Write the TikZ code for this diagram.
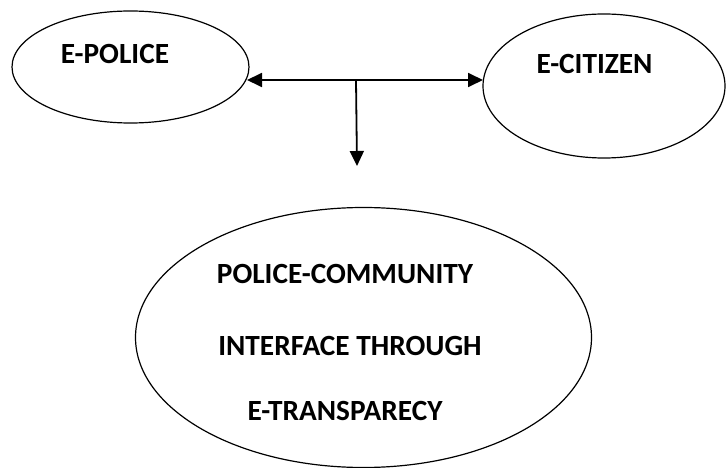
\documentclass[tikz,border=0pt]{standalone}
\usepackage{fontspec}
\setmainfont{Carlito}
\usetikzlibrary{shapes.geometric,arrows.meta}
\tikzset{
  oval/.style={draw=black, line width=1.2pt, ellipse, inner sep=0pt},
  lbl/.style={font=\bfseries\fontsize{29.3}{32}\selectfont, inner sep=0pt, anchor=center},
  conn/.style={line width=1.8pt, draw=black},
  tip/.style={-{Triangle[length=15pt,width=14pt]}},
}
\begin{document}
\begin{tikzpicture}[x=1pt,y=-1pt]
\useasboundingbox (0,0) rectangle (726,468);
\fill[white] (0,0) rectangle (726,468);
\node[oval, minimum width=237pt, minimum height=112pt] (police) at (130.5,67) {};
\node[oval, minimum width=242pt, minimum height=144pt] (citizen) at (604,86) {};
\node[oval, minimum width=456pt, minimum height=260pt] (big) at (363.5,337.5) {};
\node[lbl] (tpolice) at (115,54) {E-POLICE};
\node[lbl] (tcitizen) at (594.5,64) {E-CITIZEN};
\node[lbl] (t1) at (345,274) {POLICE-COMMUNITY};
\node[lbl] (t2) at (350,346) {INTERFACE THROUGH};
\node[lbl] (t3) at (345,411) {E-TRANSPARECY};
\coordinate (L) at (247,80);
\coordinate (R) at (483,80);
\coordinate (J) at (356,80);
\coordinate (T) at (357,166);
\draw[conn, {Triangle[length=15pt,width=14pt]}-{Triangle[length=15pt,width=14pt]}] (L) -- (R);
\draw[conn, tip] (J) -- (T);
\end{tikzpicture}
\end{document}
